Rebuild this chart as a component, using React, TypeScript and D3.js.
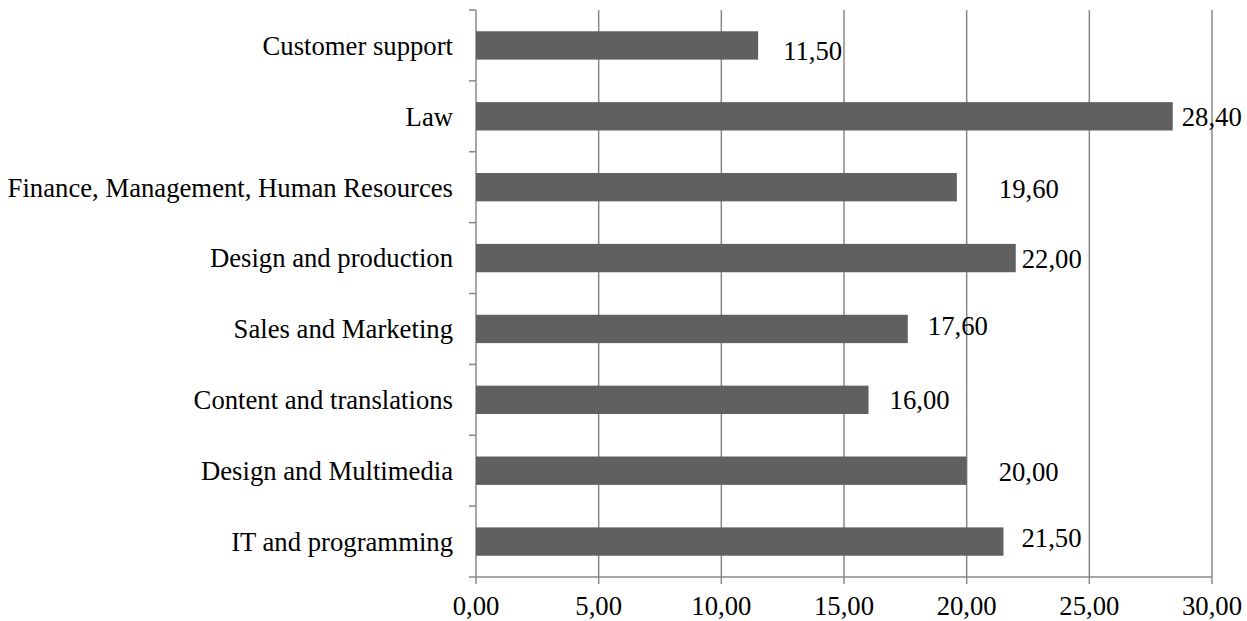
import React from 'react';
import { scaleBand, scaleLinear, range } from 'd3';

// bottom to top order is reversed in the picture, so top first here
const categories = [
  'Customer support',
  'Law',
  'Finance, Management, Human Resources',
  'Design and production',
  'Sales and Marketing',
  'Content and translations',
  'Design and Multimedia',
  'IT and programming',
];
const values = [11.5, 28.4, 19.6, 22.0, 17.6, 16.0, 20.0, 21.5];
const xTicks = [0, 5, 10, 15, 20, 25, 30];

// hand-placed data label offsets (dx from bar end, dy from bar centre)
const labelNudge = [
  [25, 5], [9, 0], [42, 1], [6, 1], [20, -3], [21, 0], [32, 1], [18, -4],
];

const width = 1247;
const height = 621;
const margin = { top: 10, right: 35, bottom: 44, left: 476 };
const fontFamily = '"Liberation Serif", "Times New Roman", serif';
const fontSize = 26.7;
const gridColor = '#888888';

const fmt = (v: number) => v.toFixed(2).replace('.', ',');

export default function App() {
  const innerWidth = width - margin.left - margin.right;
  const innerHeight = height - margin.top - margin.bottom;

  const xScale = scaleLinear().domain([0, 30]).range([0, innerWidth]);
  const yScale = scaleBand()
    .domain(categories)
    .range([0, innerHeight])
    .paddingInner(0.6)
    .paddingOuter(0.3);
  const boundaries = range(categories.length + 1).map(i => i * (innerHeight / categories.length));

  return (
    <svg
      width={width}
      height={height}
      style={{ position: 'absolute', left: 0, top: 0, background: '#fff' }}
      fontFamily={fontFamily}
      fontSize={fontSize}
    >
      <g transform={`translate(${margin.left},${margin.top})`}>
        {xTicks.map(t => (
          <g key={t}>
            <line x1={xScale(t)} x2={xScale(t)} y1={0} y2={innerHeight + 7} stroke={gridColor} strokeWidth={1.5} />
            <text x={xScale(t)} y={innerHeight + 38} textAnchor="middle" fill="#000">
              {fmt(t)}
            </text>
          </g>
        ))}
        <line x1={0} x2={innerWidth} y1={innerHeight} y2={innerHeight} stroke={gridColor} strokeWidth={1.5} />
        {boundaries.map((b, i) => (
          <line key={i} x1={-7} x2={0} y1={b} y2={b} stroke={gridColor} strokeWidth={1.5} />
        ))}

        {categories.map((c, i) => {
          const y = yScale(c) as number;
          const cy = y + yScale.bandwidth() / 2;
          const xEnd = xScale(values[i]);
          return (
            <g key={c}>
              <rect x={0} y={y} width={xEnd} height={yScale.bandwidth()} fill="#606060" />
              <text x={-23} y={cy} dy="0.35em" textAnchor="end" fill="#000">
                {c}
              </text>
              <text x={xEnd + labelNudge[i][0]} y={cy + labelNudge[i][1]} dy="0.35em" fill="#000">
                {fmt(values[i])}
              </text>
            </g>
          );
        })}
      </g>
    </svg>
  );
}
